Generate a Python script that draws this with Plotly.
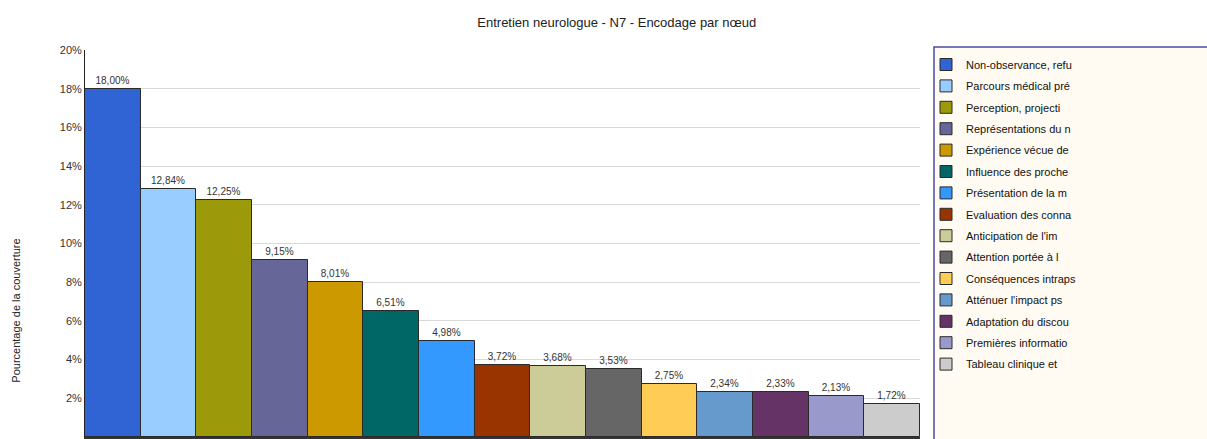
import plotly.graph_objects as go

categories = [
    "Non-observance, refu", "Parcours médical pré", "Perception, projecti",
    "Représentations du n", "Expérience vécue de", "Influence des proche",
    "Présentation de la m", "Evaluation des conna", "Anticipation de l'im",
    "Attention portée à l", "Conséquences intraps", "Atténuer l'impact ps",
    "Adaptation du discou", "Premières informatio", "Tableau clinique et",
]
values = [18.00, 12.84, 12.25, 9.15, 8.01, 6.51, 4.98, 3.72, 3.68, 3.53,
          2.75, 2.34, 2.33, 2.13, 1.72]
colors = ["#3063D3", "#99CCFF", "#9C990A", "#666699", "#CC9900", "#006666",
          "#3399FF", "#993300", "#CCCC99", "#666666", "#FFCC55", "#6699CC",
          "#663366", "#9999CC", "#CCCCCC"]
tick_vals = [0, 2, 4, 6, 8, 10, 12, 14, 16, 18, 20]
tick_text = [f"{v}%" for v in tick_vals]

fig = go.Figure()
for i, (c, v, col) in enumerate(zip(categories, values, colors)):
    fig.add_trace(go.Bar(
        x=[c], y=[v], name=c, width=1,
        marker=dict(color=col, line=dict(color="#2a2a2a", width=1)),
        text=[f"{v:.2f}%".replace(".", ",")], textposition="outside",
        textfont=dict(size=10, color="#333333"),
        cliponaxis=False, legendgroup=f"g{i}",
    ))

fig.add_shape(type="rect", xref="paper", yref="paper",
              x0=(934 - 85) / 835, x1=1.5, y0=-0.2, y1=(437.5 - 47) / 387.5,
              fillcolor="#FFFBF2", line=dict(color="#4B4B9B", width=1.5),
              layer="below")

fig.update_layout(
    width=1207, height=439,
    margin=dict(l=85, r=287, t=50, b=1.5),
    paper_bgcolor="white", plot_bgcolor="white",
    font=dict(family="Liberation Sans, Arial, sans-serif", size=11, color="#333333"),
    title=dict(text="Entretien neurologue - N7 - Encodage par nœud",
               x=0.511, xanchor="center", y=1 - 22 / 439, yanchor="middle",
               font=dict(size=13, color="#222222")),
    barmode="overlay", bargap=0,
    showlegend=True,
    legend=dict(x=(926 - 85) / 835, xanchor="left", y=1.0, yanchor="top",
                bgcolor="rgba(0,0,0,0)", font=dict(size=11, color="#111111"),
                tracegroupgap=2.4, itemclick=False, maxheight=1),
    annotations=[dict(text="Pourcentage de la couverture", textangle=-90,
                      xref="paper", yref="paper", x=(16 - 85) / 835,
                      y=(437.5 - 311) / 387.5, xanchor="center", yanchor="middle",
                      showarrow=False,
                      font=dict(size=11, color="#222222"))],
)
fig.update_xaxes(showticklabels=False, showgrid=False, showline=True,
                 linecolor="#333333", linewidth=1.5, ticks="")
fig.update_yaxes(range=[0, 20], tickvals=tick_vals, ticktext=tick_text,
                 showgrid=True, gridcolor="#D9D9D9", gridwidth=1,
                 showline=True, linecolor="#222222", linewidth=1,
                 zeroline=False, ticks="", tickfont=dict(size=11, color="#333333"))

fig.write_html("out.html", config={"displayModeBar": False},
               post_script="document.body.style.margin='0';")
